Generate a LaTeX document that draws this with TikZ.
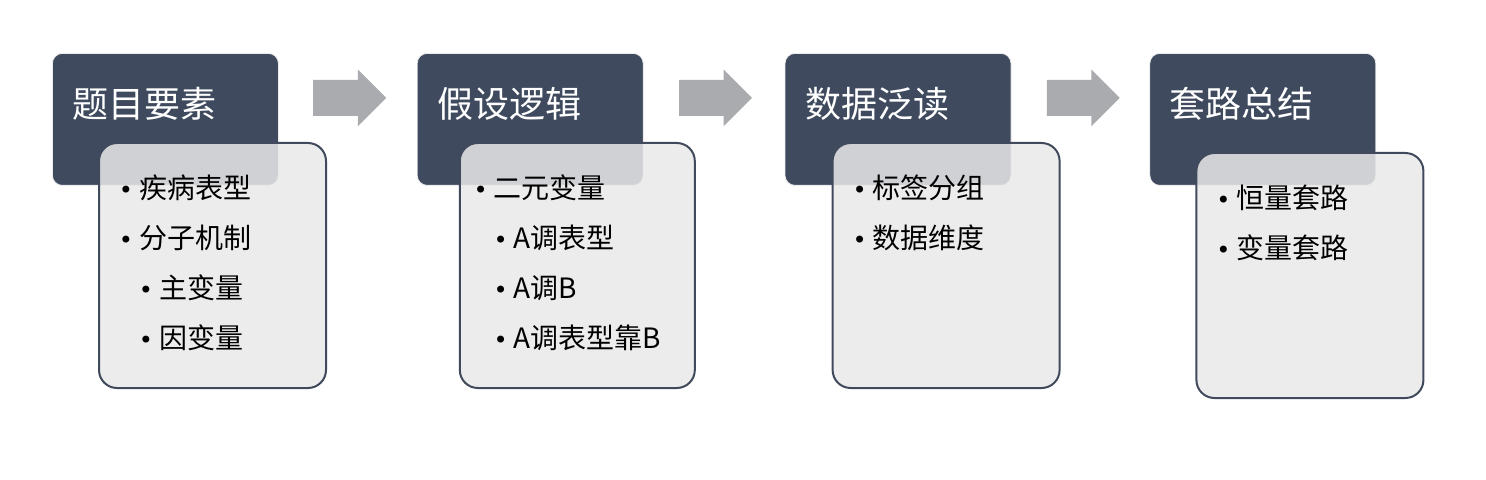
\documentclass[tikz,border=0pt]{standalone}
\usepackage{fontspec}
\setmainfont{Noto Sans CJK SC}
\newfontfamily\symfont{DejaVu Sans}
\usepackage{xcolor}
\definecolor{slatedark}{HTML}{3F4A5F}
\definecolor{slateline}{HTML}{414A5C}
\definecolor{panelgray}{HTML}{E9E9E9}
\definecolor{arrowgray}{HTML}{AAABAE}
\usepackage{tikz}
\usetikzlibrary{positioning,shapes.arrows}
\newcommand{\bul}{\makebox[13pt][c]{\symfont\fontsize{12}{12}\selectfont •}}
\newcommand{\sub}{\hspace*{10pt}\bul}

\begin{document}
\begin{tikzpicture}[
        node distance=69pt,
        headbox/.style={rectangle,draw=gray!15,fill=slatedark,rounded corners=5pt,
                    text=white,inner xsep=10pt,inner ysep=0pt,text width=93pt,
                    align=left,text height=32pt,text depth=34pt,
                    font=\fontsize{18}{22}\selectfont},
        listbox/.style={rectangle,draw=slateline,line width=1pt,fill=panelgray,
                    fill opacity=0.85,text opacity=1,rounded corners=9pt,
                    inner xsep=7pt,inner ysep=0pt,text width=99.5pt,align=left,
                    text height=28pt,text depth=94.5pt,anchor=north west,
                    font=\fontsize{14}{25}\selectfont},
        arrowblk/.style={single arrow,fill=arrowgray,draw=none,inner xsep=0pt,
                    inner ysep=8.75pt,single arrow head extend=5.25pt,
                    minimum height=36.5pt}
      ]
        \useasboundingbox (0,0) rectangle (743pt,-240pt);
        \node[headbox,anchor=north west] (t1) at (26pt,-26.5pt) {题目要素};
        \node[headbox,right=of t1] (t2) {假设逻辑};
        \node[headbox,right=70.5pt of t2] (t3) {数据泛读};
        \node[headbox,right=of t3] (t4) {套路总结};
        \node[arrowblk,right=17pt of t1,yshift=10.75pt] (a1) {};
        \node[arrowblk,right=17.5pt of t2,yshift=10.75pt] (a2) {};
        \node[arrowblk,right=17.5pt of t3,yshift=10.75pt] (a3) {};
        \node[listbox] (l1) at ([xshift=23pt,yshift=-44.5pt]t1.north west) {
          \bul 疾病表型\\ \bul 分子机制\\ \sub 主变量\\ \sub 因变量
        };
        \node[listbox,inner xsep=4pt,text width=109.5pt] (l2)
          at ([xshift=21pt,yshift=-44.5pt]t2.north west) {
          \bul 二元变量\\ \sub A调表型\\ \sub A调B\\ \sub A调表型靠B
        };
        \node[listbox] (l3) at ([xshift=23.5pt,yshift=-44.5pt]t3.north west) {
          \bul 标签分组\\ \bul 数据维度
        };
        \node[listbox] (l4) at ([xshift=23pt,yshift=-49.5pt]t4.north west) {
          \bul 恒量套路\\ \bul 变量套路
        };
      \end{tikzpicture}
\end{document}
